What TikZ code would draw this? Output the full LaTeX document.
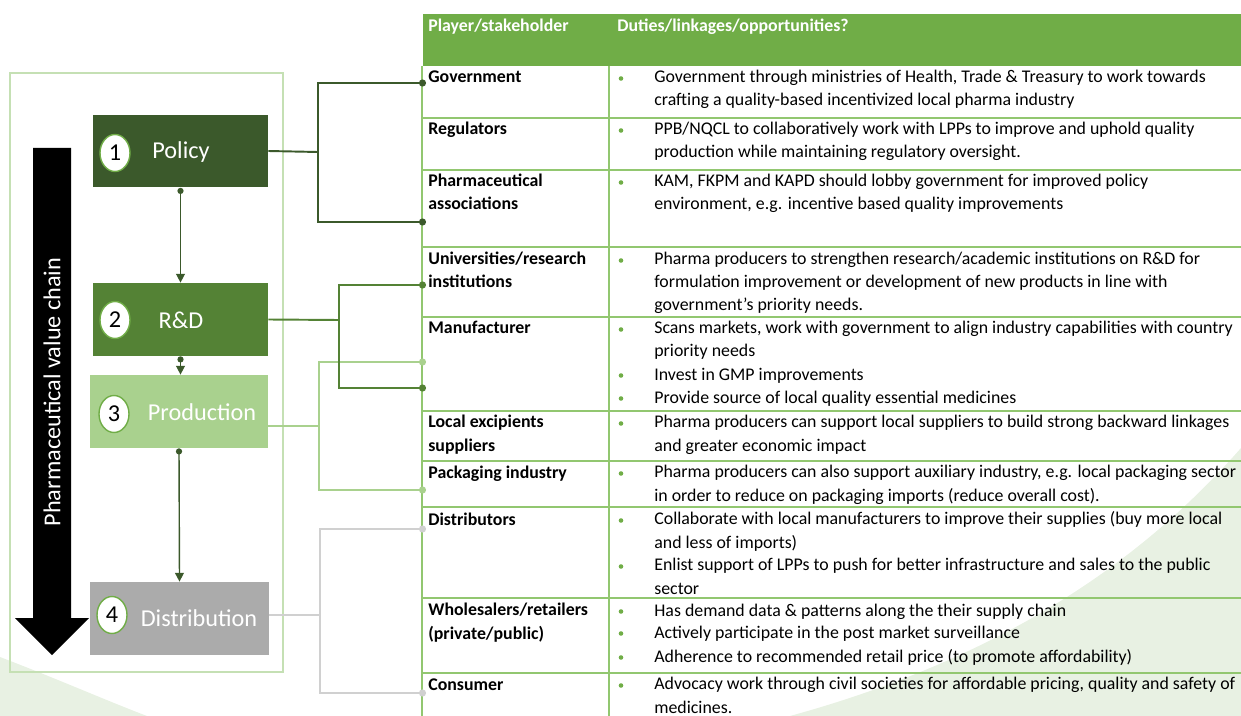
\documentclass[tikz,border=0pt]{standalone}
\usepackage{fontspec}
\setmainfont{Carlito}
\usetikzlibrary{arrows.meta,shapes.geometric}
\definecolor{policygreen}{RGB}{59,89,43}
\definecolor{rdgreen}{RGB}{84,130,53}
\definecolor{prodgreen}{RGB}{169,209,142}
\definecolor{distgrey}{RGB}{171,171,171}
\definecolor{linkgrey}{RGB}{208,208,208}
\definecolor{headgreen}{RGB}{112,173,71}
\definecolor{rulegreen}{RGB}{146,199,112}
\definecolor{framegreen}{RGB}{197,224,180}
\definecolor{washgreen}{RGB}{232,241,227}

\newcommand{\tabfont}{\fontsize{10.15}{13.1}\selectfont}
\newcommand{\stagefont}{\fontsize{13.8}{16}\selectfont}

\begin{document}
\begin{tikzpicture}[x=0.02cm,y=-0.02cm,
    stage/.style={rectangle, inner sep=0pt, minimum height=1.46cm},
    stagenum/.style={ellipse, draw=headgreen, fill=white, line width=0.8pt, minimum width=0.6cm, minimum height=0.74cm, inner sep=0pt, font=\stagefont},
    stagelabel/.style={text=white, inner sep=0pt, font=\stagefont},
    head/.style={anchor=base west, inner sep=0pt, text=white, font=\tabfont\bfseries},
    who/.style={anchor=base west, inner sep=0pt, align=left, font=\tabfont\bfseries},
    duty/.style={anchor=base west, inner sep=0pt, align=left, font=\tabfont},
    rule/.style={draw=rulegreen, line width=0.6pt},
    flow/.style={draw=policygreen, line width=0.8pt, {Circle[length=3.5pt]}-{Triangle[length=5pt,width=5pt]}},
    link/.style={line width=1.1pt, -{Circle[length=4pt]}}]
    \useasboundingbox (0,0) rectangle (1241,716);

    % background wash
    \fill[washgreen] (0,657) .. controls (60,680) and (105,700) .. (147,716) -- (0,716) -- cycle;
    \fill[washgreen] (1241,448) .. controls (1160,540) and (1030,650) .. (790,716) -- (1241,716) -- cycle;

    % value chain panel
    \draw[framegreen, line width=0.6pt] (10,73) rectangle (283,672);
    \fill[black] (33,148) -- (71,148) -- (71,618) -- (89,618) -- (52,655) -- (15,618) -- (33,618) -- cycle;
    \node[rotate=90, text=white, font=\stagefont] (chain) at (52,392) {Pharmaceutical value chain};

    \node[stage, fill=policygreen, minimum width=3.5cm] (policy) at (180.5,151) {};
    \node[stage, fill=rdgreen, minimum width=3.5cm] (rd) at (180.5,319.5) {};
    \node[stage, fill=prodgreen, minimum width=3.56cm] (prod) at (179,411.5) {};
    \node[stage, fill=distgrey, minimum width=3.58cm] (dist) at (179.5,618.5) {};

    \node[stagenum] (n1) at (115,153) {1};
    \node[stagenum] (n2) at (115,320) {2};
    \node[stagenum] (n3) at (114,414) {3};
    \node[stagenum] (n4) at (112,615) {4};
    \node[stagelabel] (l1) at (181,152) {Policy};
    \node[stagelabel] (l2) at (181,320) {R\&D};
    \node[stagelabel] (l3) at (202,412) {Production};
    \node[stagelabel] (l4) at (199,618) {Distribution};

    \draw[flow] (policy.south) -- (rd.north);
    \draw[flow] (rd.south) -- (rd.south |- prod.north);
    \draw[flow] (prod.south) -- (dist.north);

    % table (multi-line cells sit on their last baseline)
    \fill[headgreen] (423,14) rectangle (1241,66);
    \node[head] (hplayer) at (428,32) {Player/stakeholder};
    \node[head] (hduty) at (617,32) {Duties/linkages/opportunities?};
    \foreach \y in {118,170,247,317,411,461,507,598,673}
        \draw[rule] (422,\y) -- (1241,\y);
    \draw[rule] (422,66) -- (422,716);
    \draw[rule] (609,66) -- (609,716);

    \node[who] (gov) at (428,83) {Government};
    \node[who] (reg) at (428,135) {Regulators};
    \node[who] (pharm) at (428,210) {Pharmaceutical\\associations};
    \node[who] (univ) at (428,288) {Universities/research\\institutions};
    \node[who] (manu) at (428,334) {Manufacturer};
    \node[who] (excip) at (428,451) {Local excipients\\suppliers};
    \node[who] (pack) at (428,478) {Packaging industry};
    \node[who] (distr) at (428,525) {Distributors};
    \node[who] (whole) at (428,639) {Wholesalers/retailers\\(private/public)};
    \node[who] (cons) at (428,690) {Consumer};

    \foreach \y in {83,135,187,265,334,380,403,428,478,525,571,616,638,662,690}
        \fill[headgreen] (621,\y-4.5) circle (2.3);
    \node[duty] (dgov) at (654,106) {Government through ministries of Health, Trade \& Treasury to work towards\\crafting a quality-based incentivized local pharma industry};
    \node[duty] (dreg) at (654,158) {PPB/NQCL to collaboratively work with LPPs to improve and uphold quality\\production while maintaining regulatory oversight.};
    \node[duty] (dpharm) at (654,210) {KAM, FKPM and KAPD should lobby government for improved policy\\environment, e.g. incentive based quality improvements};
    \node[duty] (duniv) at (654,311) {Pharma producers to strengthen research/academic institutions on R\&D for\\formulation improvement or development of new products in line with\\government’s priority needs.};
    \node[duty] (dmanua) at (654,357) {Scans markets, work with government to align industry capabilities with country\\priority needs};
    \node[duty] (dmanub) at (654,380) {Invest in GMP improvements};
    \node[duty] (dmanuc) at (654,403) {Provide source of local quality essential medicines};
    \node[duty] (dexcip) at (654,451) {Pharma producers can support local suppliers to build strong backward linkages\\and greater economic impact};
    \node[duty] (dpack) at (654,501) {Pharma producers can also support auxiliary industry, e.g. local packaging sector\\in order to reduce on packaging imports (reduce overall cost).};
    \node[duty] (ddistra) at (654,548) {Collaborate with local manufacturers to improve their supplies (buy more local\\and less of imports)};
    \node[duty] (ddistrb) at (654,594) {Enlist support of LPPs to push for better infrastructure and sales to the public\\sector};
    \node[duty] (dwholea) at (654,616) {Has demand data \& patterns along the their supply chain};
    \node[duty] (dwholeb) at (654,638) {Actively participate in the post market surveillance};
    \node[duty] (dwholec) at (654,662) {Adherence to recommended retail price (to promote affordability)};
    \node[duty] (dcons) at (654,713) {Advocacy work through civil societies for affordable pricing, quality and safety of\\medicines.};

    % links from the chain to the players
    \coordinate (govpin) at (426,83);
    \coordinate (pharmpin) at (426,222);
    \coordinate (univpin) at (426,285);
    \coordinate (manupina) at (426,362);
    \coordinate (manupinb) at (426,388);
    \coordinate (packpin) at (426,490);
    \coordinate (distrpin) at (426,529);
    \coordinate (conspin) at (426,693);
    \coordinate (polj) at (318,152);
    \coordinate (rdj) at (339,320);
    \coordinate (prodj) at (319,426);
    \coordinate (distj) at (320,615);

    \draw[link, draw=linkgrey] (dist.east |- distj) -- (distj) |- (distrpin);
    \draw[link, draw=linkgrey] (distj) |- (conspin);
    \draw[link, draw=prodgreen] (prod.east |- prodj) -- (prodj) |- (manupina);
    \draw[link, draw=prodgreen] (prodj) |- (packpin);
    \draw[link, draw=rdgreen] (rd.east) -- (rdj) |- (univpin);
    \draw[link, draw=rdgreen] (rdj) |- (manupinb);
    \draw[link, draw=policygreen] (policy.east) -- (polj) |- (govpin);
    \draw[link, draw=policygreen] (polj) |- (pharmpin);
\end{tikzpicture}
\end{document}
